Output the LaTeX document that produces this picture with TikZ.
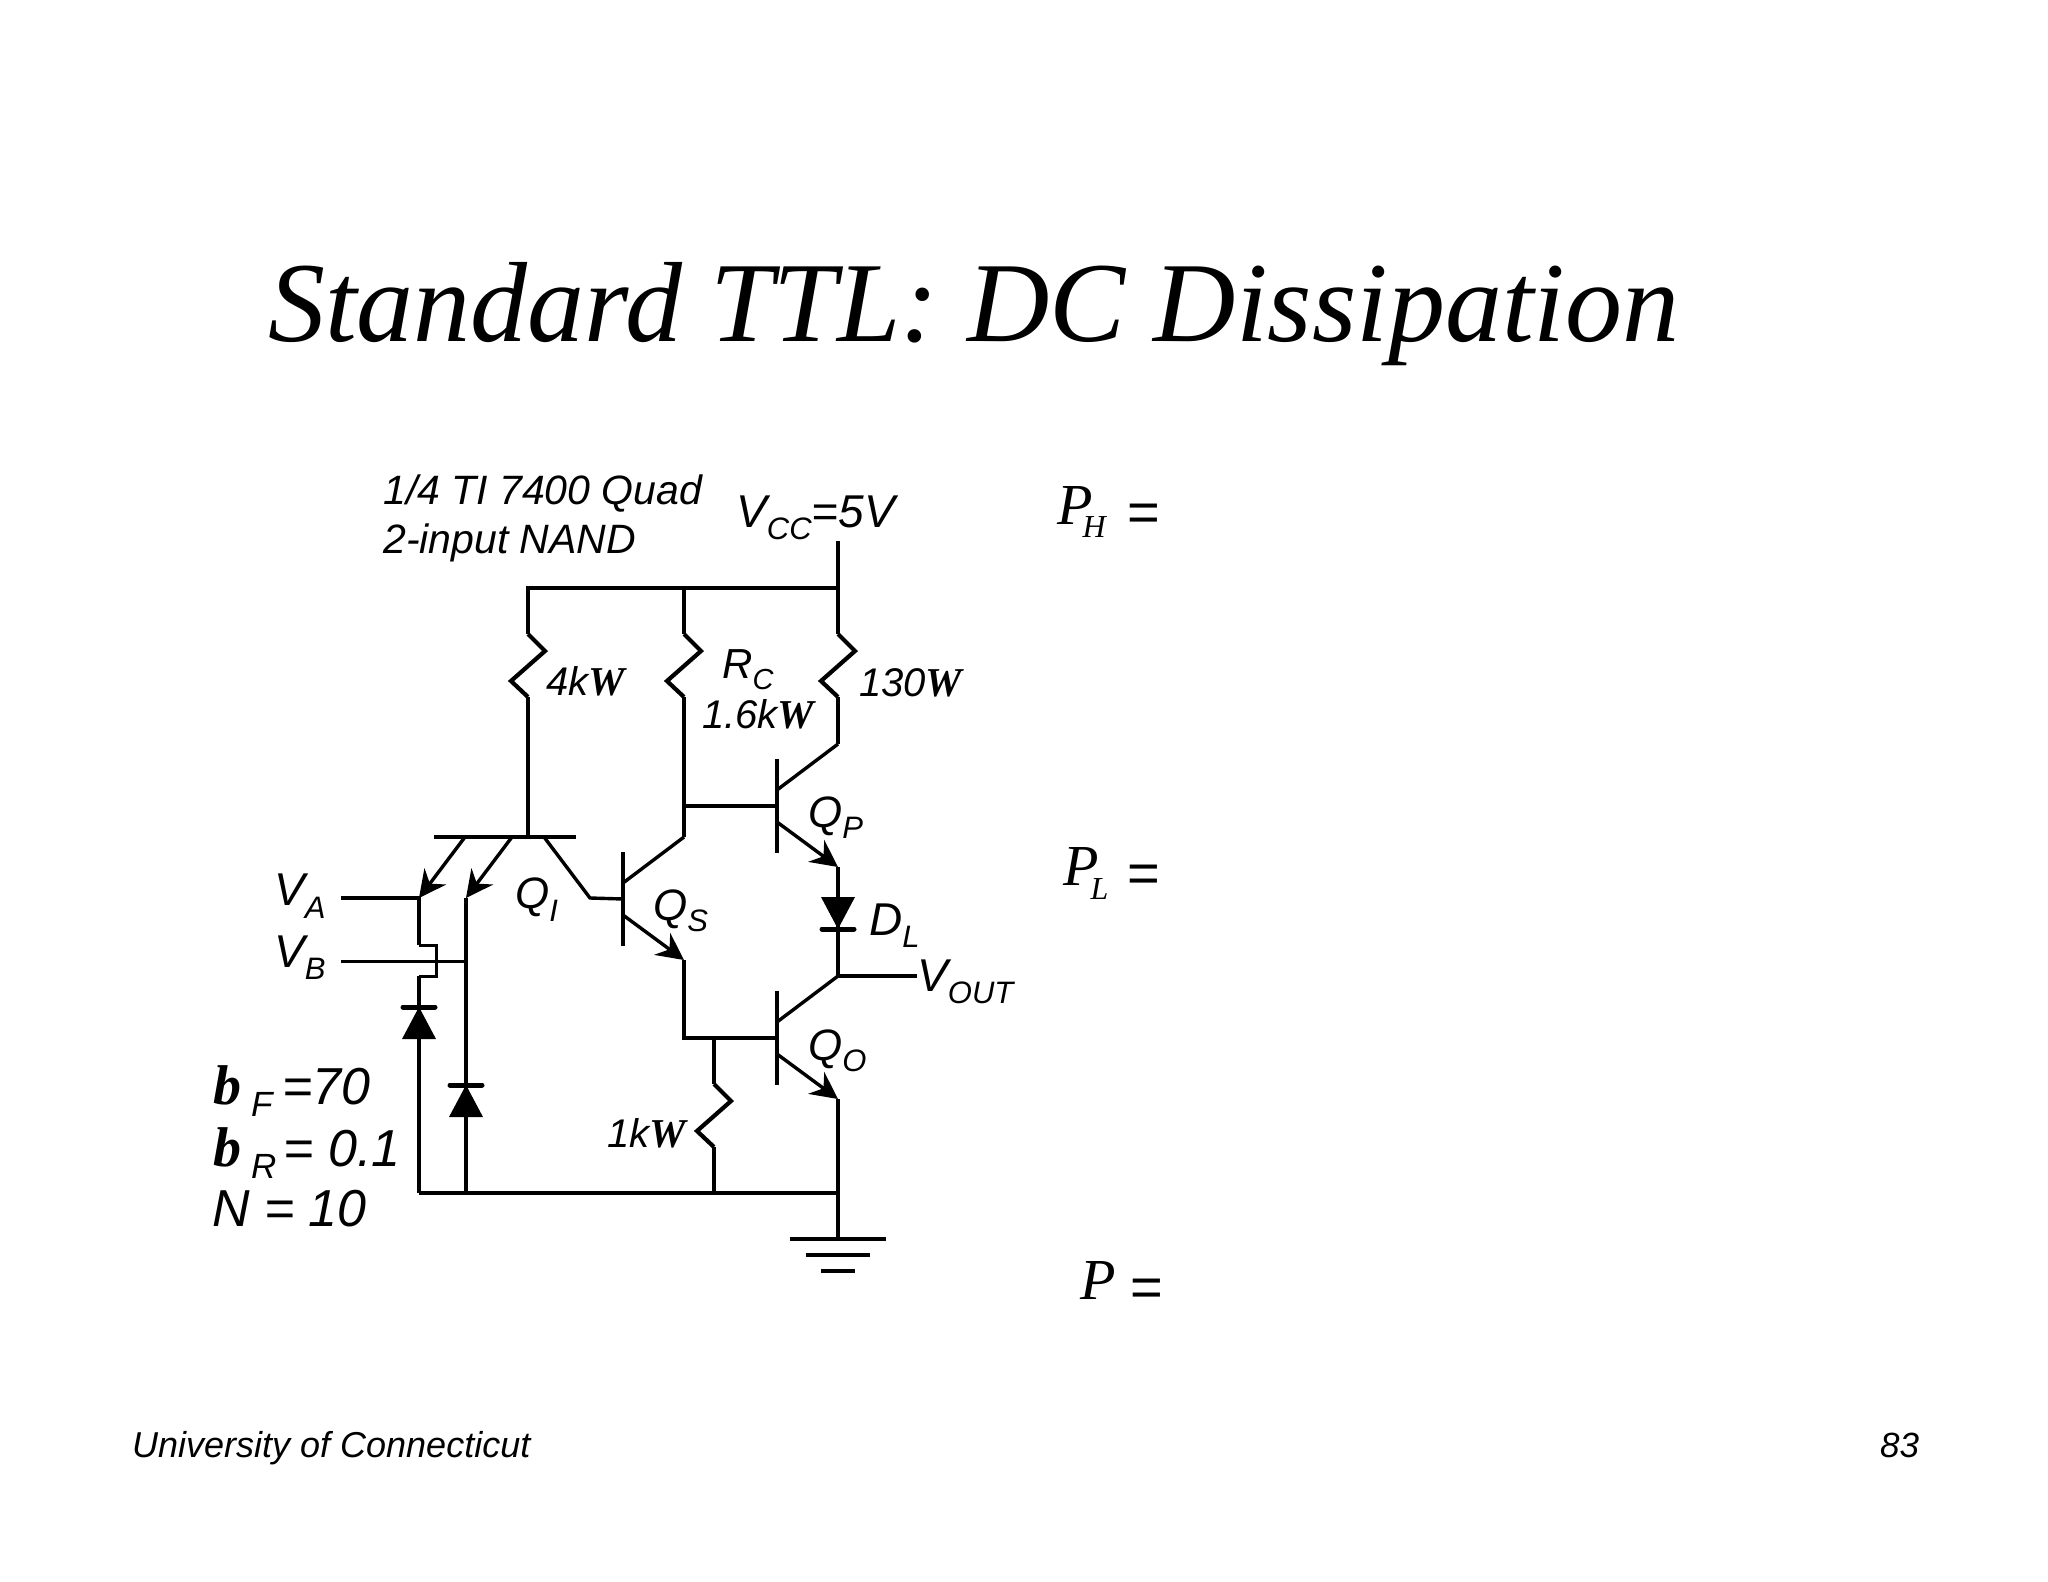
\documentclass[tikz,border=0pt]{standalone}
\usepackage{fontspec}
\setmainfont{Liberation Sans}
\newfontfamily\timesfont{Liberation Serif}
\usetikzlibrary{arrows.meta}
\newcommand{\fsize}[1]{\fontsize{#1}{#1}\selectfont}
\newcommand{\lowsub}[3]{\raisebox{-#1pt}{\fsize{#2}#3}}
\newcommand{\ohm}{{\timesfont\bfseries\fsize{41}W}}
\newcommand{\bsym}{{\timesfont\bfseries\fsize{56}b}}
\tikzset{
  x=1pt,y=-1pt,
  wire/.style={line width=3.4pt},
  thinwire/.style={line width=3pt},
  emit/.style={wire,-{Stealth[length=27pt,width=27pt,inset=9pt]}},
  lab/.style={font=\itshape\fsize{44},anchor=base west,inner sep=0pt},
  vlab/.style={lab,font=\itshape\fsize{46}},
  smalllab/.style={font=\itshape\fsize{40},anchor=base west,inner sep=0pt},
  serif/.style={font=\timesfont\itshape\fsize{58},anchor=base west,inner sep=0pt},
  eqsign/.style={font=\fsize{56},anchor=base west,inner sep=0pt},
  zigzag/.pic={
    \coordinate (-top) at (0,0);
    \coordinate (-bot) at (0,63);
    \draw[line width=4.2pt,line join=miter] (-top) -- (17,17) -- (-17,47) -- (-bot);
  },
  npn/.pic={
    \coordinate (-b) at (0,0);
    \coordinate (-c) at (61,-62);
    \coordinate (-e) at (61,61);
    \draw[wire] (0,-47) -- (0,47);
    \draw[wire] (0,-16) -- (-c);
    \draw[emit] (0,16) -- (-e);
  },
  diode/.pic={
    \fill (0,0) -- (17,32) -- (-17,32) -- cycle;
    \draw[line width=5pt,line cap=round] (-16,0) -- (16,0);
  },
}
\begin{document}
\begin{tikzpicture}
  \useasboundingbox (0,0) rectangle (2048,1582);
  % supply rail and pull-up resistors
  \coordinate (vcc) at (838,541);
  \coordinate (railL) at (528,588);
  \coordinate (railM) at (684,588);
  \coordinate (railR) at (838,588);
  \pic (rin) at (528,634) {zigzag};
  \pic (rc) at (684,634) {zigzag};
  \pic (rp) at (838,634) {zigzag};
  \draw[wire] (vcc) -- (railR) -- (railL) -- (rin-top);
  \draw[wire] (railM) -- (rc-top);
  \draw[wire] (railR) -- (rp-top);
  % transistors
  \pic (qs) at (623,899) {npn};
  \pic (qp) at (777,806) {npn};
  \pic (qo) at (777,1038) {npn};
  \draw[wire] (rc-bot) -- (qs-c);
  \draw[wire] (qp-b) -- (rc-bot |- qp-b);
  \draw[wire] (qs-e) |- (qo-b);
  \draw[wire] (rp-bot) -- (qp-c);
  % multi emitter input transistor
  \coordinate (qiL) at (434,837);
  \coordinate (qiR) at (576,837);
  \coordinate (qiT) at (528,837);
  \coordinate (emA) at (419,898);
  \coordinate (emB) at (466,898);
  \coordinate (qiC) at (590,898);
  \draw[wire] (qiL) -- (qiR);
  \draw[wire] (rin-bot) -- (qiT);
  \draw[emit] (465,837) -- (emA);
  \draw[emit] (512,837) -- (emB);
  \draw[wire] (544,837) -- (qiC) -- (qs-b);
  % output stage
  \coordinate (gnd) at (838,1239);
  \coordinate (vout) at (917,976);
  \pic[yscale=-1] (dl) at (838,929) {diode};
  \draw[wire] (qp-e) -- (838,929) -- (qo-c) -- (vout);
  \draw[wire] (qo-e) -- (gnd);
  \foreach \dy/\w in {0/48,16/32,32/17} {
    \draw[wire] (gnd) ++(-\w,\dy) -- ++({2*\w},0);
  }
  % pull-down and ground bus
  \coordinate (busL) at (419,1193);
  \coordinate (busB) at (466,1193);
  \coordinate (busR) at (838,1193);
  \pic (rd) at (714,1084) {zigzag};
  \draw[wire] (714,1038) -- (rd-top);
  \draw[wire] (rd-bot) -- (714,1193);
  \draw[wire] (busL) -- (busR);
  % inputs and clamp diodes
  \coordinate (inA) at (341,898);
  \coordinate (inB) at (341,961);
  \pic (da) at (419,1007) {diode};
  \pic (db) at (466,1085) {diode};
  \draw[wire] (inA) -- (emA) -- (419,945);
  \draw[thinwire] (419,945) -- (436,945) -- (436,976) -- (419,976);
  \draw[wire] (419,976) -- (busL);
  \draw[wire] (emB) -- (busB);
  \draw[thinwire] (inB) -- (466,961);
  % labels
  \node[lab,font=\itshape\fsize{41}] (title1) at (383,504) {1/4 TI 7400 Quad};
  \node[lab,font=\itshape\fsize{41}] (title2) at (383,553) {2-input NAND};
  \node[vlab] (lvcc) at (736,527) {V\lowsub{12}{31}{CC}=5V};
  \node[smalllab] (l4k) at (546,695) {4k\ohm};
  \node[smalllab,font=\itshape\fsize{42}] (lrc) at (722,678) {R\lowsub{11}{29}{C}};
  \node[smalllab] (l16k) at (702,728) {1.6k\ohm};
  \node[smalllab] (l130) at (859,696) {130\ohm};
  \node[smalllab] (l1k) at (607,1147) {1k\ohm};
  \node[lab] (lqp) at (808,827) {Q\lowsub{11}{31}{P}};
  \node[lab] (lqi) at (515,908) {Q\lowsub{13}{31}{I}};
  \node[lab] (lqs) at (653,920) {Q\lowsub{11}{31}{S}};
  \node[lab] (lqo) at (808,1060) {Q\lowsub{11}{31}{O}};
  \node[vlab] (ldl) at (869,935) {D\lowsub{12}{31}{L}};
  \node[vlab] (lvout) at (917,991) {V\lowsub{12}{31}{OUT}};
  \node[vlab] (lva) at (274,905) {V\lowsub{13}{31}{A}};
  \node[vlab] (lvb) at (274,967) {V\lowsub{12}{31}{B}};
  \node[lab,font=\itshape\fsize{52}] (lbf) at (213,1104) {\bsym\hspace{10pt}\lowsub{12}{35}{F}\hspace{10pt}=70};
  \node[lab,font=\itshape\fsize{52}] (lbr) at (213,1166) {\bsym\hspace{10pt}\lowsub{12}{35}{R}\hspace{7pt}= 0.1};
  \node[lab,font=\itshape\fsize{52}] (ln) at (212,1226) {N = 10};
  % right hand equations
  \node[serif] (pow1) at (1057,524) {P\hspace{-10pt}\lowsub{13}{32}{H}};
  \node[eqsign] (eq1) at (1127,531) {=};
  \node[serif] (pow2) at (1063,885) {P\hspace{-8pt}\lowsub{14}{32}{L}};
  \node[eqsign] (eq2) at (1127,892) {=};
  \node[serif] (pow3) at (1080,1299) {P};
  \node[eqsign] (eq3) at (1130,1306) {=};
  % title and footer
  \node[serif,font=\timesfont\itshape\fsize{114}] (slidetitle) at (268,341) {Standard TTL: DC Dissipation};
  \node[lab,font=\itshape\fsize{36}] (footer) at (132,1457) {University of Connecticut};
  \node[lab,font=\itshape\fsize{35}] (pagenum) at (1880,1457) {83};
\end{tikzpicture}
\end{document}
